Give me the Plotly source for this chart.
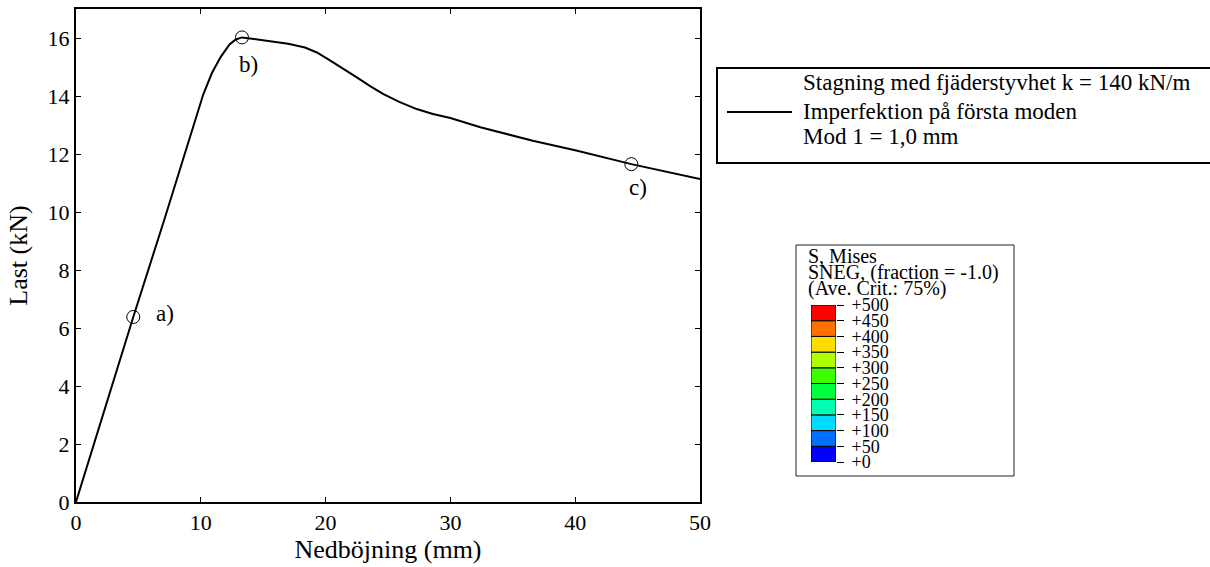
import plotly.graph_objects as go

# ---------------- data ----------------
deflection_mm = [0.0, 4.59, 7.05, 8.87, 10.2, 10.9, 11.6, 12.3, 12.8, 13.3, 15.0, 17.0,
                 18.35, 19.3, 20.35, 21.4, 22.5, 23.6, 24.6, 25.9, 27.3, 28.6,
                 30.0, 32.4, 36.6, 40.0, 44.5, 50.0]
load_kN = [0.0, 6.38, 9.70, 12.2, 14.06, 14.8, 15.35, 15.78, 15.95, 16.02, 15.92, 15.8,
           15.67, 15.5, 15.23, 14.95, 14.64, 14.33, 14.07, 13.8, 13.55, 13.38,
           13.24, 12.92, 12.46, 12.13, 11.65, 11.14]

marker_x = [4.59, 13.3, 44.5]
marker_y = [6.38, 16.02, 11.65]
marker_labels = ["a)", "b)", "c)"]
label_x = [7.1, 13.8, 45.0]
label_y = [6.5, 15.07, 10.84]

legend_lines = ["Stagning med fjäderstyvhet k = 140 kN/m",
                "Imperfektion på första moden",
                "Mod 1 = 1,0 mm"]

cb_titles = ["S, Mises", "SNEG, (fraction = -1.0)", "(Ave. Crit.: 75%)"]
cb_levels = [0, 50, 100, 150, 200, 250, 300, 350, 400, 450]
cb_step = 50
cb_colors = ["#0000FF", "#0070FF", "#00DCFF", "#00FFB0", "#00FF3C",
             "#3CFF00", "#B0FF00", "#FFDC00", "#FF7000", "#FF0000"]
cb_tickvals = [0, 50, 100, 150, 200, 250, 300, 350, 400, 450, 500]
cb_ticktext = ["+" + str(v) for v in cb_tickvals]

x_ticks = [0, 10, 20, 30, 40, 50]
y_ticks = [0, 2, 4, 6, 8, 10, 12, 14, 16]

# ---------------- layout helpers ----------------
W, H = 1210, 567
FONT = "Liberation Serif, Times New Roman, serif"


def px(x):
    return x / W


def py(y):
    return 1 - y / H


fig = go.Figure()

fig.add_trace(go.Scatter(x=deflection_mm, y=load_kN, mode="lines",
                         line=dict(color="black", width=2),
                         showlegend=False, xaxis="x", yaxis="y"))
fig.add_trace(go.Scatter(x=marker_x, y=marker_y, mode="markers",
                         marker=dict(symbol="circle-open", size=13,
                                     color="black", line=dict(width=1)),
                         showlegend=False, xaxis="x", yaxis="y"))

# colour scale swatches
fig.add_trace(go.Bar(x=[0] * len(cb_levels), y=[cb_step] * len(cb_levels),
                     base=cb_levels, width=1,
                     marker=dict(color=cb_colors, line=dict(color="black", width=1)),
                     showlegend=False, xaxis="x2", yaxis="y2"))

annotations = []
for lx, ly, t in zip(label_x, label_y, marker_labels):
    annotations.append(dict(x=lx, y=ly, xref="x", yref="y", text=t, showarrow=False,
                            font=dict(family=FONT, size=23, color="black")))

legend_y = [82, 111, 137]
for t, yy in zip(legend_lines, legend_y):
    annotations.append(dict(x=px(801), y=py(yy), xref="paper", yref="paper", text=t,
                            showarrow=False, xanchor="left", yanchor="middle",
                            font=dict(family=FONT, size=23, color="black")))

cb_title_y = [256, 272, 288]
for t, yy in zip(cb_titles, cb_title_y):
    annotations.append(dict(x=px(806), y=py(yy), xref="paper", yref="paper", text=t,
                            showarrow=False, xanchor="left", yanchor="middle",
                            font=dict(family=FONT, size=20, color="black")))

shapes = [
    # legend box and line sample
    dict(type="rect", xref="paper", yref="paper", x0=px(717), x1=px(1216),
         y0=py(163), y1=py(68), line=dict(color="black", width=2)),
    dict(type="line", xref="paper", yref="paper", x0=px(727), x1=px(792),
         y0=py(112), y1=py(112), line=dict(color="black", width=2)),
    # colour scale box
    dict(type="rect", xref="paper", yref="paper", x0=px(796), x1=px(1014),
         y0=py(476), y1=py(245), line=dict(color="#222222", width=1)),
]

axis_common = dict(showline=True, linecolor="black", linewidth=2, mirror="ticks",
                   ticks="inside", ticklen=5, tickcolor="black", tickwidth=1,
                   showgrid=False, zeroline=False,
                   tickfont=dict(family=FONT, size=22, color="black"))

fig.update_layout(
    width=W, height=H,
    margin=dict(l=0, r=0, t=0, b=0),
    paper_bgcolor="white", plot_bgcolor="white",
    showlegend=False,
    barmode="overlay",
    xaxis=dict(domain=[px(76), px(700)], range=[0, 50], tickvals=x_ticks,
               title=dict(text="Nedböjning (mm)", standoff=4,
                          font=dict(family=FONT, size=26, color="black")),
               anchor="y", automargin=False, **axis_common),
    yaxis=dict(domain=[py(502), py(9)], range=[0, 17], tickvals=y_ticks,
               title=dict(text="Last (kN)", standoff=12,
                          font=dict(family=FONT, size=26, color="black")),
               anchor="x", automargin=False, **axis_common),
    xaxis2=dict(domain=[px(811), px(836)], range=[-0.5, 0.5], visible=False,
                anchor="y2", fixedrange=True),
    yaxis2=dict(domain=[py(462), py(305)], range=[0, 500], anchor="x2", side="right",
                tickvals=cb_tickvals, ticktext=cb_ticktext, ticks="outside",
                ticklen=7, tickcolor="black", tickwidth=1, showline=False,
                showgrid=False, zeroline=False, automargin=False,
                ticklabelstandoff=4,
                tickfont=dict(family=FONT, size=18, color="black")),
    annotations=annotations,
    shapes=shapes,
)

fig.write_html("out.html")
